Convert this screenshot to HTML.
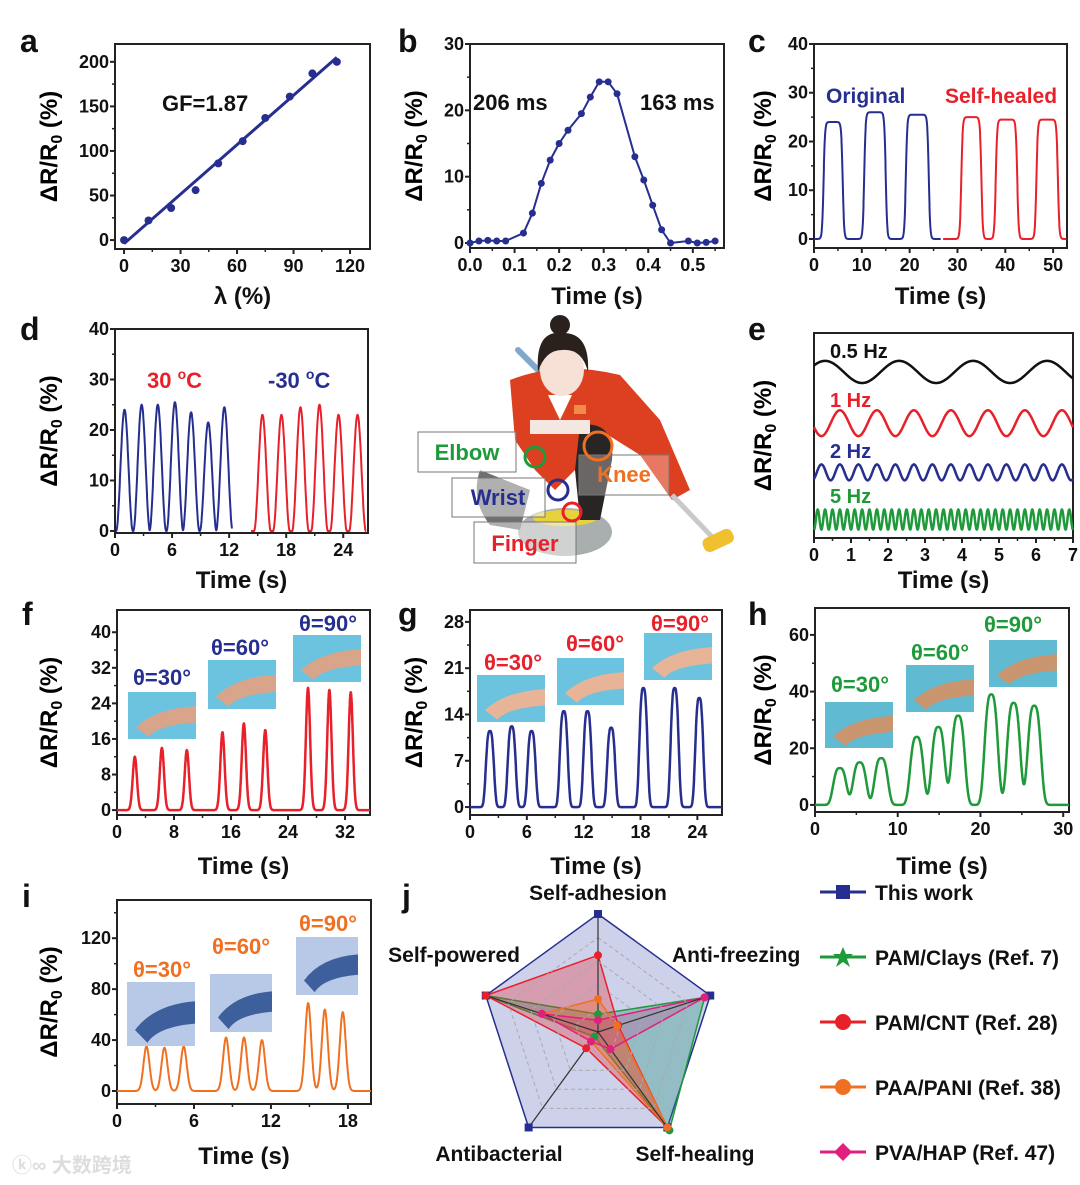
<!DOCTYPE html>
<html><head><meta charset="utf-8"><style>
html,body{margin:0;padding:0;background:#fff;}
svg{display:block;font-family:"Liberation Sans",Arial,sans-serif;font-weight:bold;}
</style></head><body>
<svg id="fig" xmlns="http://www.w3.org/2000/svg" width="1080" height="1185" viewBox="0 0 1080 1185">
<rect width="1080" height="1185" fill="#fff"/>
<!-- illustration -->
<g>
  <line x1="518" y1="350" x2="548" y2="380" stroke="#7fa8cc" stroke-width="6" stroke-linecap="round"/>
  <ellipse cx="565" cy="532" rx="47" ry="24" fill="#a9aeae"/>
  <ellipse cx="565" cy="518" rx="32" ry="8" fill="#e8d23a"/>
  <path d="M480,470 Q470,500 490,525 L520,530 L530,490 Z" fill="#6f6f6f"/>
  <path d="M510,380 Q560,360 620,375 L660,420 L690,490 L672,500 L640,455 L600,430 L575,470 L555,490 L535,470 L515,440 Z" fill="#dd4020"/>
  <path d="M580,425 Q615,420 612,460 L600,520 L580,520 L575,470 Z" fill="#2a2525"/>
  <rect x="530" y="420" width="60" height="14" fill="#f4e6e0"/>
  <rect x="574" y="405" width="12" height="9" fill="#f28a4a"/>
  <path d="M548,395 L560,420 L572,395 Z" fill="#fff"/>
  <ellipse cx="562" cy="370" rx="22" ry="26" fill="#f7e1d6"/>
  <path d="M538,372 Q535,330 562,333 Q590,332 588,372 Q582,348 562,350 Q545,350 538,372 Z" fill="#2a211d"/>
  <circle cx="560" cy="325" r="10" fill="#2a211d"/>
  <line x1="672" y1="495" x2="715" y2="540" stroke="#c9c9c9" stroke-width="5"/>
  <rect x="702" y="533" width="32" height="15" rx="6" fill="#f0c030" transform="rotate(-25 718 540)"/>
  <rect x="418" y="432" width="98" height="40" fill="rgba(255,255,255,0.45)" stroke="#777" stroke-width="1"/>
  <rect x="452" y="478" width="93" height="39" fill="rgba(255,255,255,0.45)" stroke="#777" stroke-width="1"/>
  <rect x="474" y="522" width="102" height="41" fill="rgba(255,255,255,0.45)" stroke="#777" stroke-width="1"/>
  <rect x="579" y="455" width="90" height="40" fill="rgba(255,255,255,0.3)" stroke="#777" stroke-width="1"/>
  <text x="467" y="460" fill="#1f9a3a" font-size="22" text-anchor="middle">Elbow</text>
  <text x="498" y="505" fill="#262f8f" font-size="22" text-anchor="middle">Wrist</text>
  <text x="525" y="551" fill="#e8202a" font-size="22" text-anchor="middle">Finger</text>
  <text x="624" y="482" fill="#f07022" font-size="22" text-anchor="middle">Knee</text>
  <circle cx="535" cy="457" r="10" fill="none" stroke="#1f9a3a" stroke-width="3"/>
  <circle cx="598" cy="446" r="14" fill="none" stroke="#f07022" stroke-width="3"/>
  <circle cx="558" cy="490" r="10" fill="none" stroke="#262f8f" stroke-width="3"/>
  <circle cx="572" cy="512" r="9" fill="none" stroke="#e8202a" stroke-width="3"/>
</g>
<text x="12" y="1172" fill="#ddd" font-size="20" font-family="'Liberation Sans','Noto Sans CJK SC',sans-serif">ⓚ∞ 大数跨境</text>
</svg>
<script>
// ---------- data ----------
const aStrain=[0,13,25,38,50,63,75,88,100,113];
const aResp=[0,22,36,56,86,111,137,161,187,200];
const aFitX=[0,113];
const aFitY=[-4,205];
const bTime=[0,0.02,0.04,0.06,0.08,0.12,0.14,0.16,0.18,0.2,0.22,0.25,0.27,0.29,0.31,0.33,0.37,0.39,0.41,0.43,0.45,0.49,0.51,0.53,0.55];
const bResp=[0,0.3,0.4,0.3,0.3,1.5,4.5,9,12.5,15,17,19.5,22,24.3,24.3,22.5,13,9.5,5.7,2,0,0.3,0,0.1,0.3];
const cOrigStart=[2,10.5,19.2];
const cOrigEnd=[6,15,24];
const cOrigH=[24,26,25.5];
const cHealStart=[30.8,38,46.5];
const cHealEnd=[35,42.5,51];
const cHealH=[25,24.5,24.5];
const dColdT=[1.0,2.8,4.5,6.3,8.0,9.8,11.5];
const dColdH=[24,25,25,25.5,23.5,21.5,24.5];
const dHotT=[15.5,17.5,19.5,21.5,23.5,25.5];
const dHotH=[23,23,24.5,25,23,23];
const eFreq=[0.5,1,2,5];
const eCenter=[81,56,32,9];
const eAmp=[5.4,6.3,3.9,4.9];
const ePeak=[0.3,0.7,0.2,0.1];
const eLabels=['0.5 Hz','1 Hz','2 Hz','5 Hz'];
const fT=[2.5,6.3,9.8,14.8,17.8,20.8,26.8,29.8,32.8];
const fH=[12,14,13.5,17.5,19.5,18,27.5,27,26.5];
const gT=[2.1,4.4,6.5,9.9,12.4,14.9,18.3,21.6,24.2];
const gH=[11.5,12.2,11.5,14.5,14.5,12,18,18,16.5];
const hT=[3.0,5.4,8.0,12.3,14.9,17.3,21.3,24.0,26.5];
const hH=[13,15,16.5,24,27.5,31.5,39,36,35];
const iT=[2.3,3.7,5.2,8.5,9.9,11.3,14.9,16.2,17.6];
const iH=[35,34,35,42,42,40,69,64,62];
const jAxes=['Self-adhesion','Anti-freezing','Self-healing','Antibacterial','Self-powered'];
const jThis=[1,1,1,1,1];
const jClays=[0.15,0.95,1.03,0.05,1];
const jCnt=[0.65,0.18,1,0.17,1];
const jPani=[0.28,0.17,1,0.1,0.5];
const jHap=[0.1,0.95,0.18,0.1,0.5];
const jNames=['This work','PAM/Clays (Ref. 7)','PAM/CNT (Ref. 28)','PAA/PANI (Ref. 38)','PVA/HAP (Ref. 47)'];

// ---------- helpers ----------
const NS='http://www.w3.org/2000/svg';
const svg=document.getElementById('fig');
function mk(tag,attrs,parent){const e=document.createElementNS(NS,tag);for(const k in attrs)e.setAttribute(k,attrs[k]);(parent||svg).appendChild(e);return e;}
const BLUE='#262f8f',RED='#e8202a',GREEN='#1f9a3a',ORANGE='#f07022',PINK='#e0207f';

function yTitle(g,x,y){
  const t=mk('text',{x:x,y:y,'font-size':24,'text-anchor':'middle',transform:'rotate(-90 '+x+' '+y+')'},g);
  
  
  t.appendChild(document.createTextNode('ΔR/R'));
  const s=mk('tspan',{'font-size':16,dy:5},t);s.textContent='0';
  const s2=mk('tspan',{dy:-5},t);s2.textContent=' (%)';
}
function label(g,str,x,y,size,fill,anchor,name){
  const t=mk('text',{x:x,y:y,'font-size':size,fill:fill||'#111','text-anchor':anchor||'start'},g);
  
  
  t.textContent=str;return t;
}
function axes(id,box,xd,yd,xt,xtl,xm,yt,ytl,ym,yTx,xTitle,xTy,letter,lx,ly){
  const g=mk('g',{});
  
  
  const sx=v=>box.l+(v-xd[0])/(xd[1]-xd[0])*(box.r-box.l);
  const sy=v=>box.b-(v-yd[0])/(yd[1]-yd[0])*(box.b-box.t);
  const fr=mk('rect',{x:box.l,y:box.t,width:box.r-box.l,height:box.b-box.t,fill:'none',stroke:'#222','stroke-width':2},g);
  
  
  xt.forEach((v,i)=>{
    const tk=mk('line',{x1:sx(v),x2:sx(v),y1:box.b,y2:box.b+5,stroke:'#222','stroke-width':2},g);
    
    
    label(g,xtl[i],sx(v),box.b+23,18,'#111','middle','x-tick-label');
  });
  xm.forEach(v=>{
    const tk=mk('line',{x1:sx(v),x2:sx(v),y1:box.b,y2:box.b+3,stroke:'#222','stroke-width':1.5},g);
    
    
  });
  yt.forEach((v,i)=>{
    const tk=mk('line',{x1:box.l-5,x2:box.l,y1:sy(v),y2:sy(v),stroke:'#222','stroke-width':2},g);
    
    
    label(g,ytl[i],box.l-6,sy(v)+6,18,'#111','end','y-tick-label');
  });
  ym.forEach(v=>{
    const tk=mk('line',{x1:box.l-3,x2:box.l,y1:sy(v),y2:sy(v),stroke:'#222','stroke-width':1.5},g);
    
    
  });
  yTitle(g,yTx,(box.t+box.b)/2);
  label(g,xTitle,(box.l+box.r)/2,xTy,24,'#111','middle','x-axis-title');
  label(g,letter,lx,ly,32,'#111','start','panel-letter');
  return {g,sx,sy};
}
function polyline(g,pts,color,w,name){
  const p=mk('polyline',{points:pts.map(q=>q[0].toFixed(1)+','+q[1].toFixed(1)).join(' '),fill:'none',stroke:color,'stroke-width':w||2,'stroke-linejoin':'round'},g);
  
  
  return p;
}
function pulses(t,T,H,w,p){let s=0;for(let i=0;i<T.length;i++){s+=H[i]*Math.exp(-Math.pow(Math.abs((t-T[i])/w),p));}return s;}
function sampled(ax,t0,t1,fn){const pts=[];for(let t=t0;t<=t1+1e-9;t+=0.02)pts.push([ax.sx(t),ax.sy(fn(t))]);return pts;}
function photo(g,x,y,w,h,bg,fg,name){
  const r=mk('rect',{x:x,y:y,width:w,height:h,fill:bg},g);
  
  
  const s=mk('path',{d:'M'+(x+8)+','+(y+h*0.75)+' Q'+(x+w*0.4)+','+(y+h*0.35)+' '+(x+w)+','+(y+h*0.3)+' L'+(x+w)+','+(y+h*0.65)+' Q'+(x+w*0.45)+','+(y+h*0.7)+' '+(x+w*0.3)+','+(y+h*0.95)+' Z',fill:fg},g);
  
  
}

// ---------- a ----------
(function(){
  const ax=axes('a',{l:115,r:370,t:44,b:249},[-4.8,130.6],[-10,220],[0,30,60,90,120],['0','30','60','90','120'],[15,45,75,105],[0,50,100,150,200],['0','50','100','150','200'],[25,75,125,175],57,'λ (%)',304,'a',20,52);
  const fit=mk('line',{x1:ax.sx(aFitX[0]),y1:ax.sy(aFitY[0]),x2:ax.sx(aFitX[1]),y2:ax.sy(aFitY[1]),stroke:BLUE,'stroke-width':3},ax.g);
  
  
  aStrain.forEach((v,i)=>{
    const c=mk('circle',{cx:ax.sx(v),cy:ax.sy(aResp[i]),r:4,fill:BLUE},ax.g);
    
    
  });
  label(ax.g,'GF=1.87',162,111,22,'#111','start','gauge-factor-annotation');
})();
// ---------- b ----------
(function(){
  const ax=axes('b',{l:470,r:724,t:44,b:248},[0,0.57],[-0.75,30],[0,0.1,0.2,0.3,0.4,0.5],['0.0','0.1','0.2','0.3','0.4','0.5'],[0.05,0.15,0.25,0.35,0.45,0.55],[0,10,20,30],['0','10','20','30'],[5,15,25],422,'Time (s)',304,'b',398,52);
  polyline(ax.g,bTime.map((t,i)=>[ax.sx(t),ax.sy(bResp[i])]),BLUE,2,'response-line');
  bTime.forEach((t,i)=>{
    const c=mk('circle',{cx:ax.sx(t),cy:ax.sy(bResp[i]),r:3.5,fill:BLUE},ax.g);
    
    
  });
  label(ax.g,'206 ms',473,110,22,'#111','start','response-time-annotation');
  label(ax.g,'163 ms',640,110,22,'#111','start','recovery-time-annotation');
})();
// ---------- c ----------
(function(){
  const ax=axes('c',{l:814,r:1067,t:44,b:248},[0,52.9],[-1.85,40],[0,10,20,30,40,50],['0','10','20','30','40','50'],[5,15,25,35,45],[0,10,20,30,40],['0','10','20','30','40'],[5,15,25,35],771,'Time (s)',304,'c',748,52);
  const sig=u=>1/(1+Math.exp(-u));
  const sq=(t,S,E,H)=>{let s=0;for(let i=0;i<S.length;i++)s+=H[i]*(sig((t-S[i])/0.15)-sig((t-E[i])/0.15));return s;};
  polyline(ax.g,sampled(ax,0,26.5,t=>sq(t,cOrigStart,cOrigEnd,cOrigH)),BLUE,2,'original-series');
  polyline(ax.g,sampled(ax,27,52.8,t=>sq(t,cHealStart,cHealEnd,cHealH)),RED,2,'self-healed-series');
  label(ax.g,'Original',826,103,21,BLUE,'start','original-label');
  label(ax.g,'Self-healed',945,103,21,RED,'start','self-healed-label');
})();
// ---------- d ----------
(function(){
  const ax=axes('d',{l:115,r:368,t:329,b:533},[0,26.6],[-0.4,40],[0,6,12,18,24],['0','6','12','18','24'],[3,9,15,21],[0,10,20,30,40],['0','10','20','30','40'],[5,15,25,35],57,'Time (s)',588,'d',20,340);
  const rc=(t,T,H)=>{let s=0;for(let i=0;i<T.length;i++){const u=(t-T[i])/0.88;if(Math.abs(u)<1)s+=H[i]*(0.5+0.5*Math.cos(Math.PI*u));}return s;};
  polyline(ax.g,sampled(ax,0.1,12.3,t=>rc(t,dColdT,dColdH)),BLUE,2,'plus30c-series');
  polyline(ax.g,sampled(ax,14.3,26.4,t=>rc(t,dHotT,dHotH)),RED,2,'minus30c-series');
  const l1=label(ax.g,'30 ',147,388,22,RED,'start','30c-label');
  const a1=mk('tspan',{'font-size':14,dy:-9},l1);a1.textContent='o';
  const b1=mk('tspan',{dy:9},l1);b1.textContent='C';
  const l2=label(ax.g,'-30 ',268,388,22,BLUE,'start','minus30c-label');
  const a2=mk('tspan',{'font-size':14,dy:-9},l2);a2.textContent='o';
  const b2=mk('tspan',{dy:9},l2);b2.textContent='C';
})();
// ---------- e ----------
(function(){
  const ax=axes('e',{l:814,r:1073,t:333,b:538},[0,7],[0,100],[0,1,2,3,4,5,6,7],['0','1','2','3','4','5','6','7'],[0.5,1.5,2.5,3.5,4.5,5.5,6.5],[],[],[],771,'Time (s)',588,'e',748,340);
  const cols=['#111',RED,BLUE,GREEN];
  const nm=['freq-0-5hz-series','freq-1hz-series','freq-2hz-series','freq-5hz-series'];
  const ly=[358,407,458,503];
  eFreq.forEach((f,k)=>{
    const pts=[];for(let t=0;t<=7.0001;t+=0.01)pts.push([ax.sx(t),ax.sy(eCenter[k]+eAmp[k]*Math.cos(2*Math.PI*f*(t-ePeak[k])))]);
    polyline(ax.g,pts,cols[k],2.5,nm[k]);
    label(ax.g,eLabels[k],830,ly[k],20,cols[k],'start','frequency-label');
  });
})();
// ---------- f ----------
(function(){
  const ax=axes('f',{l:117,r:370,t:610,b:815},[0,35.5],[-1.1,45],[0,8,16,24,32],['0','8','16','24','32'],[4,12,20,28],[0,8,16,24,32,40],['0','8','16','24','32','40'],[4,12,20,28,36],57,'Time (s)',874,'f',22,625);
  polyline(ax.g,sampled(ax,0,35.5,t=>pulses(t,fT,fH,0.42,2)),RED,2.5,'wrist-series');
  photo(ax.g,128,692,68,47,'#6cc3df','#d9a58a','wrist-photo-30');
  photo(ax.g,208,660,68,49,'#6cc3df','#d9a58a','wrist-photo-60');
  photo(ax.g,293,635,68,47,'#6cc3df','#d9a58a','wrist-photo-90');
  label(ax.g,'θ=30°',162,685,22,BLUE,'middle','angle-label');
  label(ax.g,'θ=60°',240,655,22,BLUE,'middle','angle-label');
  label(ax.g,'θ=90°',328,631,22,BLUE,'middle','angle-label');
})();
// ---------- g ----------
(function(){
  const ax=axes('g',{l:470,r:722,t:610,b:815},[0,26.6],[-1.2,29.8],[0,6,12,18,24],['0','6','12','18','24'],[3,9,15,21],[0,7,14,21,28],['0','7','14','21','28'],[3.5,10.5,17.5,24.5],422,'Time (s)',874,'g',398,625);
  polyline(ax.g,sampled(ax,0,26.6,t=>pulses(t,gT,gH,0.5,3)),BLUE,2.5,'finger-series');
  photo(ax.g,477,675,68,47,'#6cc3df','#e7b497','finger-photo-30');
  photo(ax.g,557,658,67,47,'#6cc3df','#e7b497','finger-photo-60');
  photo(ax.g,644,633,68,47,'#6cc3df','#e7b497','finger-photo-90');
  label(ax.g,'θ=30°',513,670,22,RED,'middle','angle-label');
  label(ax.g,'θ=60°',595,651,22,RED,'middle','angle-label');
  label(ax.g,'θ=90°',680,631,22,RED,'middle','angle-label');
})();
// ---------- h ----------
(function(){
  const ax=axes('h',{l:815,r:1069,t:608,b:812},[0,30.7],[-2.5,69.5],[0,10,20,30],['0','10','20','30'],[5,15,25],[0,20,40,60],['0','20','40','60'],[10,30,50],771,'Time (s)',874,'h',748,625);
  polyline(ax.g,sampled(ax,0,30.7,t=>pulses(t,hT,hH,0.95,3)),GREEN,2.5,'elbow-series');
  photo(ax.g,825,702,68,46,'#5fbad2','#c9956f','elbow-photo-30');
  photo(ax.g,906,665,68,47,'#5fbad2','#c9956f','elbow-photo-60');
  photo(ax.g,989,640,68,47,'#5fbad2','#c9956f','elbow-photo-90');
  label(ax.g,'θ=30°',860,692,22,GREEN,'middle','angle-label');
  label(ax.g,'θ=60°',940,660,22,GREEN,'middle','angle-label');
  label(ax.g,'θ=90°',1013,632,22,GREEN,'middle','angle-label');
})();
// ---------- i ----------
(function(){
  const ax=axes('i',{l:117,r:371,t:900,b:1104},[0,19.8],[-10.2,150],[0,6,12,18],['0','6','12','18'],[3,9,15],[0,40,80,120],['0','40','80','120'],[20,60,100,140],57,'Time (s)',1164,'i',22,907);
  polyline(ax.g,sampled(ax,0,19.8,t=>pulses(t,iT,iH,0.33,2)),ORANGE,2,'knee-series');
  photo(ax.g,127,982,68,64,'#b7c9e6','#3d5f9c','knee-photo-30');
  photo(ax.g,210,974,62,58,'#b7c9e6','#3d5f9c','knee-photo-60');
  photo(ax.g,296,937,62,58,'#b7c9e6','#3d5f9c','knee-photo-90');
  label(ax.g,'θ=30°',162,977,22,ORANGE,'middle','angle-label');
  label(ax.g,'θ=60°',241,954,22,ORANGE,'middle','angle-label');
  label(ax.g,'θ=90°',328,931,22,ORANGE,'middle','angle-label');
})();
// ---------- j radar ----------
(function(){
  const g=mk('g',{});
  
  
  const cx=598,cy=1032,R=118;
  const pt=(k,v)=>{const a=(-90+72*k)*Math.PI/180;return [cx+R*v*Math.cos(a),cy+R*v*Math.sin(a)];};
  label(g,'j',402,907,32,'#111','start','panel-letter');
  const series=[jThis,jClays,jCnt,jPani,jHap];
  const cols=[BLUE,GREEN,RED,ORANGE,PINK];
  const fills=['rgba(60,70,170,0.25)','rgba(40,150,130,0.35)','rgba(232,32,42,0.3)','rgba(240,112,34,0.3)','rgba(224,32,127,0.2)'];
  series.forEach((s,k)=>{
    const pts=s.map((v,i)=>pt(i,v));
    const p=mk('polygon',{points:pts.map(q=>q[0].toFixed(1)+','+q[1].toFixed(1)).join(' '),fill:fills[k],stroke:cols[k],'stroke-width':1.5},g);
    
    
  });
  [0.2,0.4,0.6,0.8].forEach(l=>{
    const pts=[0,1,2,3,4].map(i=>pt(i,l));
    const p=mk('polygon',{points:pts.map(q=>q[0].toFixed(1)+','+q[1].toFixed(1)).join(' '),fill:'none',stroke:'#aaa','stroke-width':1,'stroke-dasharray':'4 3'},g);
    
    
  });
  [0,1,2,3,4].forEach(i=>{
    const e=pt(i,1);
    const l=mk('line',{x1:cx,y1:cy,x2:e[0],y2:e[1],stroke:'#333','stroke-width':1.2},g);
    
    
  });
  series.forEach((s,k)=>{
    s.forEach((v,i)=>{
      const q=pt(i,v);
      const m=mk(k===0?'rect':'circle',k===0?{x:q[0]-4,y:q[1]-4,width:8,height:8,fill:cols[k]}:{cx:q[0],cy:q[1],r:4,fill:cols[k]},g);
      
      
    });
  });
  label(g,jAxes[0],598,900,21,'#111','middle','axis-label-self-adhesion');
  label(g,jAxes[1],672,962,21,'#111','start','axis-label-anti-freezing');
  label(g,jAxes[2],695,1161,21,'#111','middle','axis-label-self-healing');
  label(g,jAxes[3],499,1161,21,'#111','middle','axis-label-antibacterial');
  label(g,jAxes[4],520,962,21,'#111','end','axis-label-self-powered');
  const ly=[892,957,1022,1087,1152];
  jNames.forEach((n,k)=>{
    const it=mk('g',{},g);
    
    
    const ln=mk('line',{x1:820,x2:866,y1:ly[k],y2:ly[k],stroke:cols[k],'stroke-width':3},it);
    
    
    let mm;
    if(k===0)mm=mk('rect',{x:836,y:ly[k]-7,width:14,height:14,fill:cols[k]},it);
    else if(k===1)mm=mk('polygon',{points:'843,'+(ly[k]-10)+' 846,'+(ly[k]-3)+' 853,'+(ly[k]-3)+' 847,'+(ly[k]+2)+' 850,'+(ly[k]+10)+' 843,'+(ly[k]+5)+' 836,'+(ly[k]+10)+' 839,'+(ly[k]+2)+' 833,'+(ly[k]-3)+' 840,'+(ly[k]-3),fill:cols[k]},it);
    else if(k===4)mm=mk('polygon',{points:'843,'+(ly[k]-9)+' 852,'+ly[k]+' 843,'+(ly[k]+9)+' 834,'+ly[k],fill:cols[k]},it);
    else mm=mk('circle',{cx:843,cy:ly[k],r:8,fill:cols[k]},it);
    
    
    label(it,n,875,ly[k]+8,21,'#111','start','legend-text');
  });
})();
</script>
</body></html>
